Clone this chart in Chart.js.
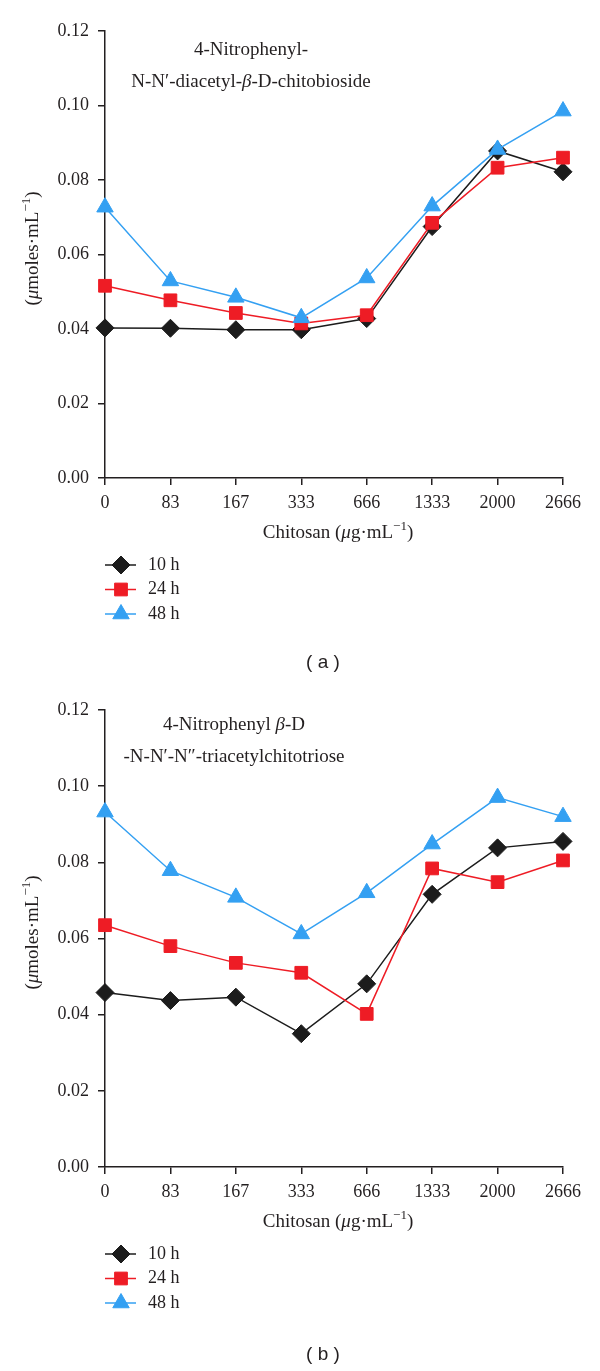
<!DOCTYPE html>
<html>
<head>
<meta charset="utf-8">
<script src="https://cdn.jsdelivr.net/npm/chart.js@4.4.1/dist/chart.umd.min.js"></script>
<style>
html, body { margin: 0; padding: 0; background: #fff; }
canvas { display: block; }
</style>
</head>
<body>
<canvas id="chartA" width="600" height="690"></canvas>
<canvas id="chartB" width="600" height="681"></canvas>
<script>
// chitosan doses (x categories)
var doses = ['0', '83', '167', '333', '666', '1333', '2000', '2666'];
var seriesNames = ['10 h', '24 h', '48 h'];
var yTicks = [0, 0.02, 0.04, 0.06, 0.08, 0.10, 0.12];

// panel (a) - chitobioside
var a10 = [0.0403, 0.0402, 0.0398, 0.0398, 0.0428, 0.0675, 0.0878, 0.0822];
var a24 = [0.0516, 0.0477, 0.0443, 0.0415, 0.0437, 0.0685, 0.0833, 0.0860];
var a48 = [0.0727, 0.0529, 0.0485, 0.0430, 0.0537, 0.0730, 0.0882, 0.0985];

// panel (b) - chitotriose
var b10 = [0.0458, 0.0437, 0.0446, 0.0350, 0.0481, 0.0716, 0.0838, 0.0855];
var b24 = [0.0635, 0.0580, 0.0536, 0.0510, 0.0402, 0.0784, 0.0748, 0.0805];
var b48 = [0.0932, 0.0778, 0.0708, 0.0612, 0.0720, 0.0848, 0.0970, 0.0920];

var ink = '#231f20';
var serif = '"Liberation Serif", "Times New Roman", serif';
var styles = [
    { color: '#1c1c1c', point: 'rectRot', radius: 9 },
    { color: '#ee1c25', point: 'rect', radius: 9 },
    { color: '#34a0f2', point: 'triangle', radius: 9.5 }
];

function drawRich(ctx, segs, x, y, size, align) {
    function fontOf(s) {
        return (s.i ? 'italic ' : '') + (s.sup ? Math.round(size * 0.68) : size) + 'px ' + serif;
    }
    var total = 0;
    segs.forEach(function (s) {
        ctx.font = fontOf(s);
        s.w = ctx.measureText(s.t).width;
        total += s.w;
    });
    var cx = align === 'center' ? x - total / 2 : x;
    ctx.textAlign = 'left';
    ctx.textBaseline = 'middle';
    ctx.fillStyle = ink;
    segs.forEach(function (s) {
        ctx.font = fontOf(s);
        ctx.fillText(s.t, cx, s.sup ? y - size * 0.36 : y);
        cx += s.w;
    });
}

var xTitle = [{ t: 'Chitosan (' }, { t: 'μ', i: true }, { t: 'g·mL' }, { t: '−1', sup: true }, { t: ')' }];
var yTitle = [{ t: '(' }, { t: 'μ', i: true }, { t: 'moles·mL' }, { t: '−1', sup: true }, { t: ')' }];

var extras = {
    id: 'extras',
    afterDraw: function (chart, args, opts) {
        var ctx = chart.ctx, area = chart.chartArea;
        ctx.save();
        opts.title.forEach(function (line, i) {
            drawRich(ctx, line, opts.titleX, opts.titleY + i * 32, 19, 'center');
        });
        drawRich(ctx, xTitle, (area.left + area.right) / 2 + 4, area.bottom + 55, 19, 'center');

        ctx.save();
        ctx.translate(33, (area.top + area.bottom) / 2 - 6);
        ctx.rotate(-Math.PI / 2);
        drawRich(ctx, yTitle, 0, 0, 19, 'center');
        ctx.restore();

        // legend, one row per series
        chart.data.datasets.forEach(function (ds, i) {
            var y = opts.legendY + i * 24.5;
            ctx.strokeStyle = ds.borderColor;
            ctx.lineWidth = 1.5;
            ctx.beginPath();
            ctx.moveTo(105, y);
            ctx.lineTo(136, y);
            ctx.stroke();
            ctx.fillStyle = ds.pointBackgroundColor;
            ctx.strokeStyle = ds.pointBackgroundColor;
            ctx.lineWidth = 1;
            Chart.helpers.drawPoint(ctx, { pointStyle: ds.pointStyle, radius: ds.pointRadius, rotation: 0, borderWidth: 1 }, 121, y);
            drawRich(ctx, [{ t: ds.label }], 148, y, 18, 'left');
        });

        ctx.font = '19px "Liberation Sans", Arial, sans-serif';
        ctx.fillStyle = ink;
        ctx.textAlign = 'center';
        ctx.textBaseline = 'middle';
        ctx.fillText(opts.panel, 323, opts.panelY);
        ctx.restore();
    }
};

function makeDatasets(series) {
    return series.map(function (values, i) {
        var st = styles[i];
        return {
            label: seriesNames[i],
            data: values,
            borderColor: st.color,
            backgroundColor: st.color,
            pointBackgroundColor: st.color,
            pointBorderColor: st.color,
            pointBorderWidth: 1,
            pointStyle: st.point,
            pointRadius: st.radius,
            borderWidth: 1.5,
            tension: 0,
            clip: false,
            order: 3 - i
        };
    });
}

function plota(canvasId, series, extraOpts, top, axisHeight) {
    var canvas = document.getElementById(canvasId);
    var axisGrid = { drawOnChartArea: false, drawTicks: true, tickLength: 7, color: ink, lineWidth: 1.5 };
    var config = {
        type: 'line',
        data: { labels: doses, datasets: makeDatasets(series) },
        options: {
            responsive: false,
            animation: false,
            layout: { padding: { top: top, right: 37, left: 0, bottom: 0 } },
            plugins: {
                legend: { display: false },
                tooltip: { enabled: false },
                extras: extraOpts
            },
            scales: {
                x: {
                    type: 'category',
                    offset: false,
                    grid: axisGrid,
                    border: { color: ink, width: 1.5 },
                    ticks: { color: ink, font: { family: serif, size: 18 }, padding: 7, maxRotation: 0, autoSkip: false },
                    afterFit: function (s) { s.height = axisHeight; }
                },
                y: {
                    min: 0,
                    max: 0.12,
                    afterBuildTicks: function (s) { s.ticks = yTicks.map(function (v) { return { value: v }; }); },
                    grid: axisGrid,
                    border: { color: ink, width: 1.5 },
                    ticks: { color: ink, font: { family: serif, size: 18 }, padding: 9, callback: function (v) { return v.toFixed(2); } },
                    afterFit: function (s) { s.width = 105; }
                }
            }
        },
        plugins: [extras]
    };
    return new Chart(canvas, config);
}

window.chartA = plota('chartA', [a10, a24, a48], {
    title: [
        [{ t: '4-Nitrophenyl-' }],
        [{ t: 'N-N′-diacetyl-' }, { t: 'β', i: true }, { t: '-D-chitobioside' }]
    ],
    titleX: 251, titleY: 50,
    legendY: 565,
    panel: '( a )', panelY: 663
}, 31, 212);

window.chartB = plota('chartB', [b10, b24, b48], {
    title: [
        [{ t: '4-Nitrophenyl ' }, { t: 'β', i: true }, { t: '-D' }],
        [{ t: '-N-N′-N″-triacetylchitotriose' }]
    ],
    titleX: 234, titleY: 35,
    legendY: 564,
    panel: '( b )', panelY: 665
}, 20, 204);
</script>
</body>
</html>
